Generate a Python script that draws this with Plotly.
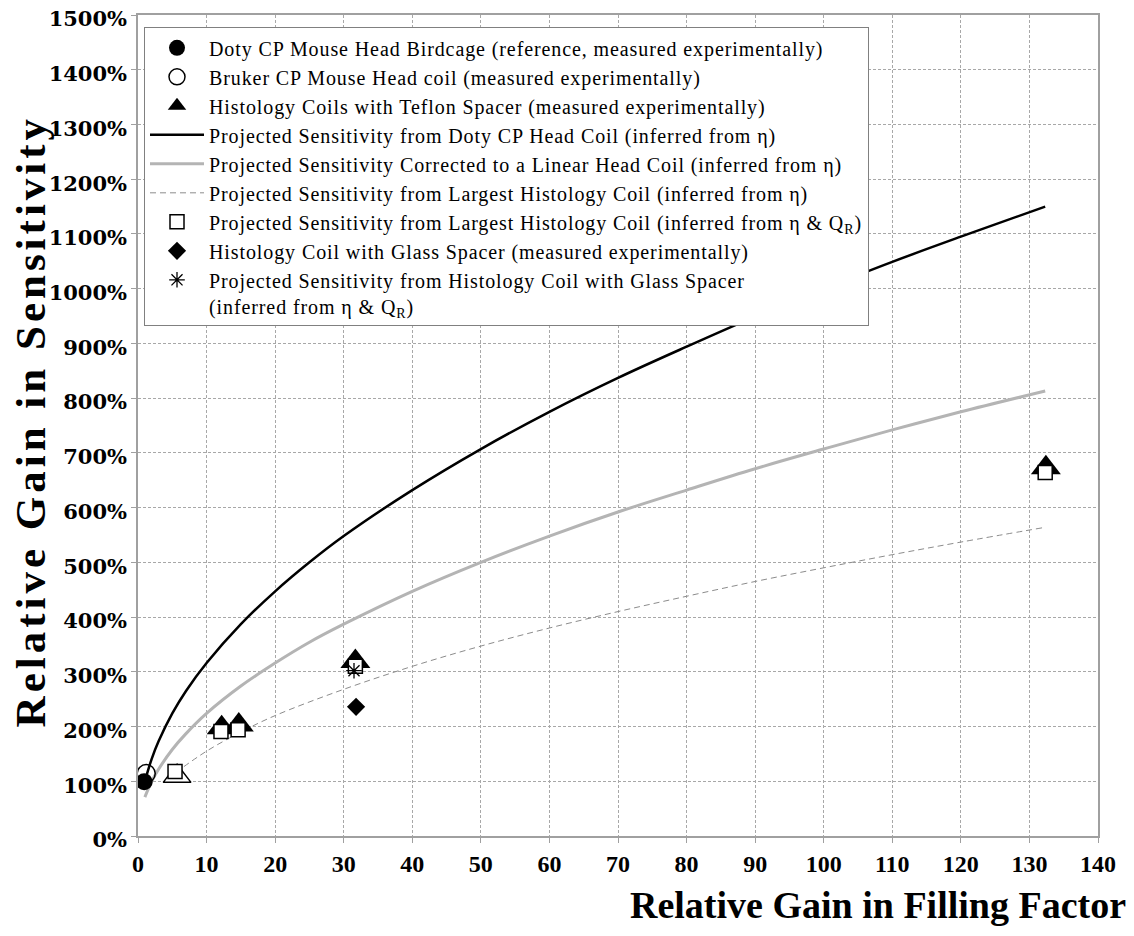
import plotly.graph_objects as go

# ---- data ----
doty_x = [0.9]
doty_y = [99]
bruker_x = [1.2]
bruker_y = [114]
teflon_x = [12.2, 14.7, 31.7, 132.4]
teflon_y = [198, 203, 319, 673]
teflon_open_x = [5.7]
teflon_open_y = [109]
square_x = [5.4, 12.1, 14.6, 31.7, 132.3]
square_y = [118, 191, 194, 310, 664]
glass_x = [31.8]
glass_y = [236]
glass_proj_x = [31.5]
glass_proj_y = [302]

doty_line_x = [1, 2, 3, 5, 7, 10, 15, 20, 25, 30, 40, 50, 60, 70, 80, 90, 100, 110, 120, 132.3]
doty_line_y = [100, 141, 173, 224, 265, 316, 387, 447, 500, 548, 632, 707, 775, 837, 894, 949, 1000, 1049, 1095, 1150]
linear_x = [1, 2, 3, 5, 7, 10, 15, 20, 25, 30, 40, 50, 60, 70, 80, 90, 100, 110, 120, 132.3]
linear_y = [71, 100, 122, 158, 187, 224, 274, 316, 354, 387, 447, 500, 548, 592, 632, 671, 707, 742, 775, 813]
histo_x = [5.5, 10, 15, 20, 30, 40, 50, 60, 70, 80, 90, 100, 110, 120, 132.3]
histo_y = [116, 155, 190, 220, 268, 310, 347, 380, 410, 438, 465, 490, 514, 537, 564]

x_ticks = list(range(0, 141, 10))
y_ticks = list(range(0, 1501, 100))
y_tick_text = [f"{v}%" for v in y_ticks]

names = [
    "Doty CP Mouse Head Birdcage (reference, measured experimentally)",
    "Bruker CP Mouse Head coil (measured experimentally)",
    "Histology Coils with Teflon Spacer (measured experimentally)",
    "Projected Sensitivity from Doty CP Head Coil (inferred from η)",
    "Projected Sensitivity Corrected to a Linear Head Coil (inferred from η)",
    "Projected Sensitivity from Largest Histology Coil (inferred from η)",
    "Projected Sensitivity from Largest Histology Coil (inferred from η & Q<sub>R</sub>)",
    "Histology Coil with Glass Spacer (measured experimentally)",
    "Projected Sensitivity from Histology Coil with Glass Spacer<br>(inferred from η & Q<sub>R</sub>)",
]


def spaced(t):
    return "<span style='letter-spacing:0.9px'>" + t.replace("<br>", "</span><br><span style='letter-spacing:0.9px'>") + "</span>"


fig = go.Figure()

# lines first (drawn beneath markers)
fig.add_trace(go.Scatter(x=doty_line_x, y=doty_line_y, mode="lines", name=spaced(names[3]), legendrank=4,
                         line=dict(color="black", width=2.5, shape="spline")))
fig.add_trace(go.Scatter(x=linear_x, y=linear_y, mode="lines", name=spaced(names[4]), legendrank=5,
                         line=dict(color="#b4b4b4", width=3, shape="spline")))
fig.add_trace(go.Scatter(x=histo_x, y=histo_y, mode="lines", name=spaced(names[5]), legendrank=6,
                         line=dict(color="#8c8c8c", width=1, dash="6px,4px", shape="spline")))

# markers
fig.add_trace(go.Scatter(x=doty_x, y=doty_y, mode="markers", name=spaced(names[0]), legendrank=1,
                         marker=dict(symbol="circle", size=17, color="black")))
fig.add_trace(go.Scatter(x=bruker_x, y=bruker_y, mode="markers", name=spaced(names[1]), legendrank=2,
                         marker=dict(symbol="circle-open", size=18, color="black", line=dict(width=1.5))))
fig.add_trace(go.Scatter(x=teflon_open_x, y=teflon_open_y, mode="markers", showlegend=False,
                         marker=dict(symbol="triangle-up", size=24, color="white",
                                     line=dict(color="black", width=1.5))))
fig.add_trace(go.Scatter(x=teflon_x, y=teflon_y, mode="markers", name=spaced(names[2]), legendrank=3,
                         marker=dict(symbol="triangle-up", size=26, color="black")))
fig.add_trace(go.Scatter(x=square_x, y=square_y, mode="markers", name=spaced(names[6]), legendrank=7,
                         marker=dict(symbol="square", size=14, color="white",
                                     line=dict(color="black", width=1.5))))
fig.add_trace(go.Scatter(x=glass_x, y=glass_y, mode="markers", name=spaced(names[7]), legendrank=8,
                         marker=dict(symbol="diamond", size=14, color="black")))
fig.add_trace(go.Scatter(x=glass_proj_x, y=glass_proj_y, mode="markers", name=spaced(names[8]), legendrank=9,
                         marker=dict(symbol="asterisk-open", size=13, color="black",
                                     line=dict(color="black", width=1.3))))

grid = dict(showgrid=True, gridcolor="#a8a8a8", gridwidth=1, griddash="3px,2px",
            showline=True, linecolor="#a0a0a0", linewidth=1.5, mirror=True,
            ticks="outside", ticklen=5, tickcolor="#a0a0a0", zeroline=False,
            automargin=False, ticklabeloverflow="allow")

fig.update_layout(
    width=1134, height=936,
    paper_bgcolor="white", plot_bgcolor="white",
    margin=dict(l=130, r=44, t=7, b=108),
    font=dict(family="Liberation Serif", color="black"),
    xaxis=dict(range=[0, 140], tickvals=x_ticks,
               tickfont=dict(family="Liberation Serif", size=24, color="black", weight="bold"),
               **grid),
    yaxis=dict(range=[0, 1500], tickvals=y_ticks, ticktext=y_tick_text, ticklabelshift=4,
               tickfont=dict(family="DejaVu Serif", size=21, color="black", weight="bold"),
               **grid),
    legend=dict(x=0.00625, y=0.985, xanchor="left", yanchor="top",
                bgcolor="white", bordercolor="#808080", borderwidth=1,
                font=dict(family="Liberation Serif", size=20, color="black"),
                valign="top", tracegroupgap=0, itemwidth=54),
    annotations=[
        dict(text="<b><span style='letter-spacing:4px'>Relative Gain in Sensitivity</span></b>",
             xref="paper", yref="paper",
             x=-0.1125, y=0.505, xanchor="center", yanchor="middle", textangle=-90,
             showarrow=False, font=dict(family="Liberation Serif", size=43, color="black")),
        dict(text="<b>Relative Gain in Filling Factor</b>", xref="paper", yref="paper",
             x=1.031, y=-0.084, xanchor="right", yanchor="middle",
             showarrow=False, font=dict(family="Liberation Serif", size=38, color="black")),
    ],
)

fig.write_html("out.html")
